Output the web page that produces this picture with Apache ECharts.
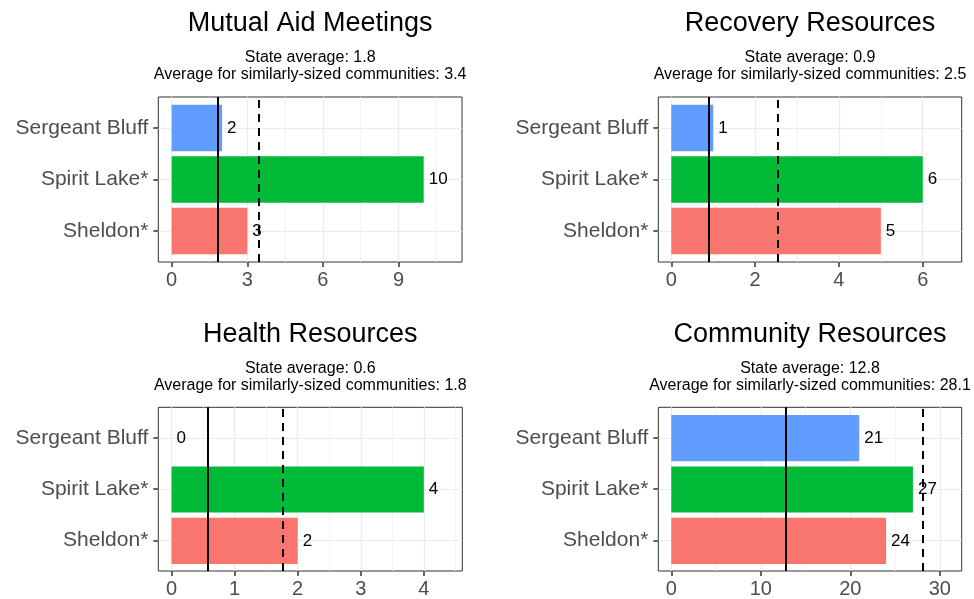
<!DOCTYPE html>
<html>
<head>
<meta charset="utf-8">
<script src="https://cdn.jsdelivr.net/npm/echarts@6/dist/echarts.min.js"></script>
<style>
  html, body { margin: 0; padding: 0; background: #fff; }
  #chart { width: 974px; height: 599px; }
</style>
</head>
<body>
<div id="chart"></div>
<script>
// bottom to top, as the category axis draws them
const categories = ['Sheldon*', 'Spirit Lake*', 'Sergeant Bluff']
const barColors = ['#F8766D', '#00BA38', '#619CFF']

const panelTitles = ['Mutual Aid Meetings', 'Recovery Resources', 'Health Resources', 'Community Resources']
const mutualAid = [3, 10, 2]
const recovery = [5, 6, 1]
const health = [2, 4, 0]
const community = [24, 27, 21]

// reference lines: solid = state average, dashed = similarly-sized communities
const stateAvg = [1.84, 0.9, 0.57, 12.8]
const peerAvg = [3.44, 2.54, 1.77, 28.1]
const stateAvgText = ['1.8', '0.9', '0.6', '12.8']
const peerAvgText = ['3.4', '2.5', '1.8', '28.1']

const xMin = [-0.53, -0.31, -0.21, -1.45]
const xMax = [11.52, 6.93, 4.61, 32.45]
const majorTicks = [[0, 3, 6, 9], [0, 2, 4, 6], [0, 1, 2, 3, 4], [0, 10, 20, 30]]
const minorTicks = [[1.5, 4.5, 7.5, 10.5], [1, 3, 5], [0.5, 1.5, 2.5, 3.5, 4.5], [5, 15, 25]]

const seriesValues = [mutualAid, recovery, health, community]

const FONT = '"Liberation Sans", Arial, sans-serif'
const panels = [
  { left: 158.3, top: 97, width: 303.7, height: 165 },
  { left: 658.3, top: 97, width: 303.4, height: 165 },
  { left: 158.3, top: 407.3, width: 304, height: 164.4 },
  { left: 658.3, top: 407.3, width: 303.4, height: 164.4 }
]

const chart = echarts.init(document.getElementById('chart'))

const grid = [], xAxis = [], yAxis = [], series = [], graphic = []

panels.forEach((p, i) => {
  // ggplot pads a discrete axis by 0.6 on each side: 3 bands out of 3.2
  const pad = p.height * 0.1 / 3.2
  grid.push({ left: p.left, top: p.top, width: p.width, height: p.height, show: true, borderColor: '#333333', borderWidth: 1, backgroundColor: '#fff' })
  grid.push({ left: p.left, top: p.top + pad, width: p.width, height: p.height - 2 * pad })

  xAxis.push({
    gridIndex: 2 * i, type: 'value', min: xMin[i], max: xMax[i], position: 'bottom',
    axisLine: { show: false, onZero: false },
    axisTick: { show: true, length: 5, customValues: majorTicks[i], lineStyle: { color: '#333333', width: 1.5 } },
    axisLabel: { customValues: majorTicks[i], fontSize: 20, color: '#4D4D4D', margin: 8, fontFamily: FONT },
    splitLine: { show: true, lineStyle: { color: '#EBEBEB', width: 1.2 } }
  })
  xAxis.push({
    gridIndex: 2 * i, type: 'value', min: xMin[i], max: xMax[i], position: 'top',
    axisLine: { show: false, onZero: false },
    axisTick: { show: false, customValues: minorTicks[i] },
    axisLabel: { show: false, customValues: minorTicks[i] },
    splitLine: { show: true, lineStyle: { color: '#F0F0F0', width: 0.8 } }
  })
  xAxis.push({ gridIndex: 2 * i + 1, type: 'value', min: xMin[i], max: xMax[i], show: false })

  yAxis.push({
    gridIndex: 2 * i, type: 'value', min: -0.6, max: 2.6,
    axisLine: { show: false, onZero: false },
    axisTick: { show: true, length: 5, customValues: [0, 1, 2], lineStyle: { color: '#333333', width: 1.5 } },
    axisLabel: { customValues: [0, 1, 2], formatter: v => categories[Math.round(v)], fontSize: 21, color: '#4D4D4D', margin: 10, fontFamily: FONT },
    splitLine: { show: true, lineStyle: { color: '#EBEBEB', width: 1.2 } }
  })
  yAxis.push({ gridIndex: 2 * i + 1, type: 'category', data: categories, show: false })

  series.push({
    type: 'bar',
    xAxisIndex: 3 * i + 2,
    yAxisIndex: 2 * i + 1,
    data: seriesValues[i].map((v, k) => ({ value: v, itemStyle: { color: barColors[k] } })),
    barWidth: '90%',
    z: 3,
    label: { show: true, position: 'right', distance: 5, fontSize: 17, color: '#000', fontFamily: FONT },
    silent: true,
    animation: false
  })
  series.push({
    type: 'line',
    xAxisIndex: 3 * i,
    yAxisIndex: 2 * i,
    data: [],
    z: 5,
    markLine: {
      silent: true,
      symbol: 'none',
      animation: false,
      label: { show: false },
      data: [
        { xAxis: stateAvg[i], lineStyle: { type: 'solid', color: '#000', width: 2 } },
        { xAxis: peerAvg[i], lineStyle: { type: [8, 6], color: '#000', width: 2 } }
      ]
    }
  })

  const cx = p.left + p.width / 2
  const dy = p.top - 97
  graphic.push({ type: 'text', x: cx, y: 24 + dy, style: { text: panelTitles[i], fill: '#000', font: '27px ' + FONT, align: 'center', verticalAlign: 'middle' } })
  graphic.push({ type: 'text', x: cx, y: 58 + dy, style: { text: 'State average: ' + stateAvgText[i], fill: '#000', font: '16px ' + FONT, align: 'center', verticalAlign: 'middle' } })
  graphic.push({ type: 'text', x: cx, y: 75 + dy, style: { text: 'Average for similarly-sized communities: ' + peerAvgText[i], fill: '#000', font: '16px ' + FONT, align: 'center', verticalAlign: 'middle' } })
})

chart.setOption({
  animation: false,
  textStyle: { fontFamily: FONT },
  grid, xAxis, yAxis, series, graphic
})
</script>
</body>
</html>
